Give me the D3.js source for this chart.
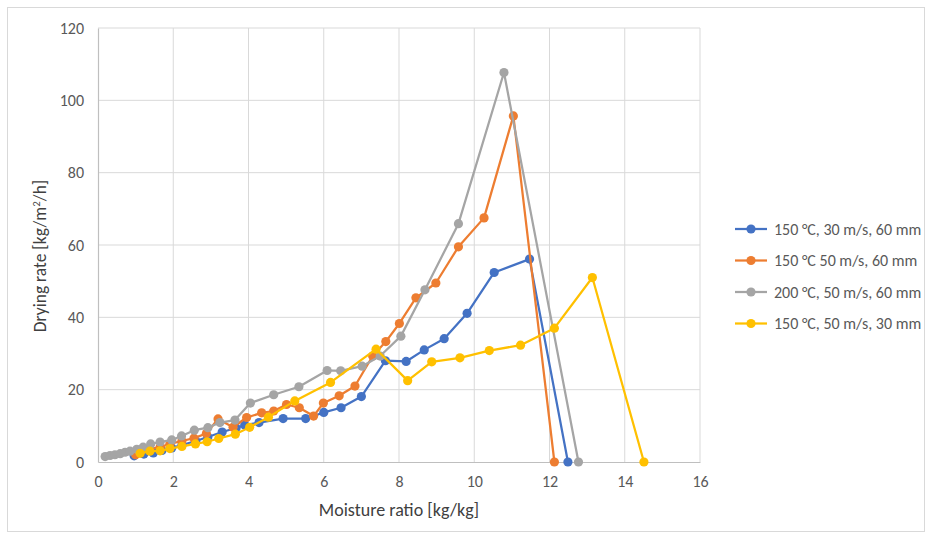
<!DOCTYPE html>
<html><head><meta charset="utf-8">
<script src="https://cdn.jsdelivr.net/npm/d3@7"></script>
<style>body{margin:0;background:#fff}svg{display:block}</style>
</head><body><svg id="c" width="933" height="537"></svg>
<script>
const seriesNames = ["150 °C, 30 m/s, 60 mm","150 °C 50 m/s, 60 mm","200 °C, 50 m/s, 60 mm","150 °C, 50 m/s, 30 mm"];
const seriesColors = ["#4472C4","#ED7D31","#A5A5A5","#FFC000"];
const blueX = [0.96,1.22,1.47,1.70,1.96,2.23,2.60,2.92,3.30,3.67,3.90,4.28,4.92,5.52,6.00,6.46,7.00,7.64,8.19,8.67,9.20,9.81,10.53,11.47,12.49];
const blueY = [1.7,2.2,2.5,3.2,3.9,4.7,5.8,6.9,8.3,9.4,10.2,10.9,12.0,12.0,13.7,15.0,18.1,28.0,27.8,31.0,34.1,41.1,52.4,56.1,0];
const orangeX = [1.00,1.12,1.38,1.65,1.91,2.23,2.55,2.88,3.19,3.59,3.95,4.35,4.67,5.01,5.35,5.73,5.99,6.41,6.83,7.30,7.65,8.01,8.45,8.98,9.58,10.26,11.04,12.13];
const orangeY = [2.0,2.8,3.6,4.1,5.0,5.8,6.6,7.9,11.9,9.6,12.3,13.6,14.1,15.9,15.0,12.7,16.3,18.3,21.0,29.3,33.3,38.3,45.4,49.5,59.5,67.5,95.7,0];
const grayX = [0.19,0.32,0.45,0.59,0.72,0.85,1.03,1.20,1.40,1.65,1.96,2.22,2.56,2.92,3.24,3.64,4.05,4.67,5.34,6.09,6.45,7.02,7.50,8.05,8.69,9.58,10.79,12.77];
const grayY = [1.5,1.8,2.0,2.3,2.7,3.0,3.5,4.1,5.0,5.5,6.1,7.2,8.8,9.5,10.9,11.6,16.3,18.6,20.8,25.3,25.2,26.5,29.3,34.8,47.6,65.9,107.7,0];
const yellowX = [1.12,1.38,1.65,1.91,2.23,2.59,2.90,3.21,3.65,4.03,4.53,5.23,6.18,7.39,8.23,8.87,9.62,10.40,11.23,12.13,13.14,14.51];
const yellowY = [2.4,3.0,3.1,3.7,4.3,5.0,5.6,6.5,7.7,9.6,12.4,16.9,22.0,31.2,22.5,27.7,28.8,30.8,32.3,37.0,51.0,0];
const xTicks = [0,2,4,6,8,10,12,14,16];
const yTicks = [0,20,40,60,80,100,120];

const series = [[blueX,blueY],[orangeX,orangeY],[grayX,grayY],[yellowX,yellowY]]
  .map((s,i)=>({name:seriesNames[i],color:seriesColors[i],pts:s[0].map((x,j)=>[x,s[1][j]])}));

const svg = d3.select("#c");
const font = "Carlito, Calibri, Lato, sans-serif";
svg.append("rect").attr("x",7.5).attr("y",7.5).attr("width",917).attr("height",524)
  .attr("fill","#fff").attr("stroke","#d9d9d9");

const x = d3.scaleLinear().domain([0,16]).range([98,700]);
const y = d3.scaleLinear().domain([0,120]).range([462,28]);

const grid = svg.append("g");
grid.selectAll(".gx").data(xTicks.slice(1)).join("line")
  .attr("x1",d=>x(d)).attr("x2",d=>x(d)).attr("y1",y(0)).attr("y2",y(120))
  .attr("stroke","#d9d9d9").attr("stroke-width",1);
grid.selectAll(".gy").data(yTicks.slice(1)).join("line")
  .attr("x1",x(0)).attr("x2",x(16)).attr("y1",d=>y(d)).attr("y2",d=>y(d))
  .attr("stroke","#d9d9d9").attr("stroke-width",1);

const xa = svg.append("g").attr("transform",`translate(0,${y(0)})`)
  .call(d3.axisBottom(x).tickValues(xTicks).tickSize(0).tickPadding(14).tickFormat(d3.format("d")));
const ya = svg.append("g").attr("transform",`translate(${x(0)},0)`)
  .call(d3.axisLeft(y).tickValues(yTicks).tickSize(0).tickPadding(14).tickFormat(d3.format("d")));
[xa,ya].forEach(a=>{
  a.select(".domain").attr("stroke","#bfbfbf").attr("stroke-width",1.2);
  a.selectAll("text").attr("fill","#595959").style("font-family",font).style("font-size","16px");
});

svg.append("text").attr("x",399).attr("y",516).attr("text-anchor","middle")
  .attr("fill","#404040").style("font-family",font).style("font-size","18px").text("Moisture ratio [kg/kg]");
svg.append("text").attr("transform","translate(46,256) rotate(-90)").attr("text-anchor","middle")
  .attr("fill","#404040").style("font-family",font).style("font-size","17.5px")
  .html("Drying rate [kg/m<tspan dy='-6' font-size='11px'>2</tspan><tspan dy='6'>/h]</tspan>");

const line = d3.line().x(d=>x(d[0])).y(d=>y(d[1]));
series.forEach(s=>{
  const g = svg.append("g");
  g.append("path").attr("d",line(s.pts)).attr("fill","none").attr("stroke",s.color)
    .attr("stroke-width",2.25).attr("stroke-linejoin","round");
  g.selectAll("circle").data(s.pts).join("circle")
    .attr("cx",d=>x(d[0])).attr("cy",d=>y(d[1])).attr("r",4.6).attr("fill",s.color);
});

const leg = svg.append("g");
series.forEach((s,i)=>{
  const ly = 229 + i*31.5;
  leg.append("line").attr("x1",735).attr("x2",767).attr("y1",ly).attr("y2",ly)
    .attr("stroke",s.color).attr("stroke-width",2.25);
  leg.append("circle").attr("cx",751).attr("cy",ly).attr("r",4.6).attr("fill",s.color);
  leg.append("text").attr("x",774).attr("y",ly+5.5).attr("fill","#595959")
    .style("font-family",font).style("font-size","16px").text(s.name);
});
</script></body></html>
